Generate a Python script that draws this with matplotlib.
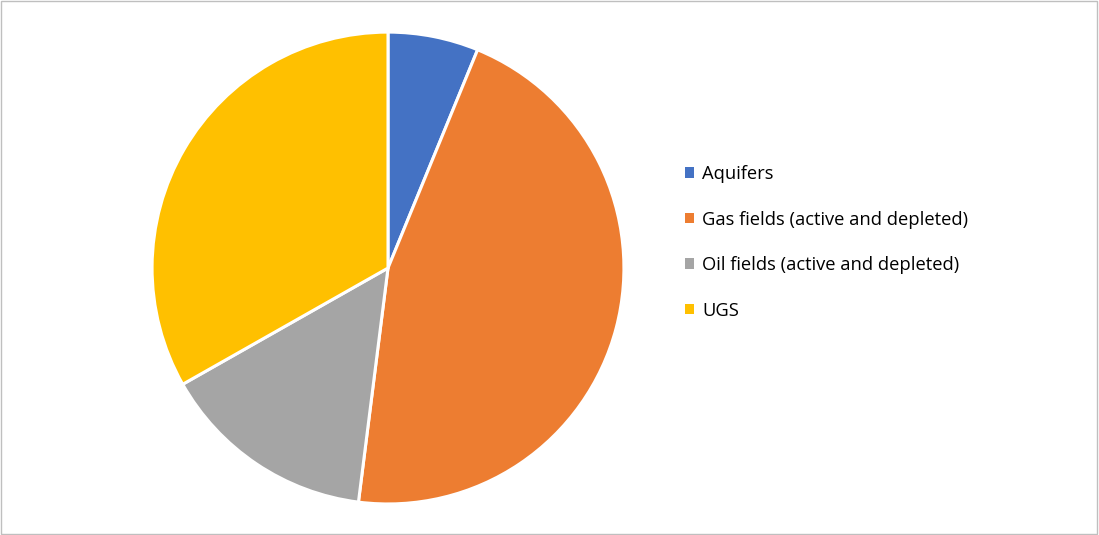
import matplotlib.pyplot as plt
from matplotlib.patches import Patch, Rectangle

# storage types and their shares (%)
labels = ["Aquifers", "Gas fields (active and depleted)", "Oil fields (active and depleted)", "UGS"]
shares = [6.2, 45.8, 14.8, 33.2]
colors = ["#4472C4", "#ED7D31", "#A5A5A5", "#FFC000"]

plt.rcParams['font.family'] = ['Open Sans', 'DejaVu Sans']

fig = plt.figure(figsize=(10.99, 5.35), dpi=100)
ax = fig.add_axes([0.1383, 0.058, 0.4295, 0.882])
ax.pie(shares, colors=colors, startangle=90, counterclock=False, radius=1,
       wedgeprops=dict(edgecolor="white", linewidth=2.2))
ax.set_xlim(-1, 1)
ax.set_ylim(-1, 1)
ax.set_aspect("equal")
ax.axis("off")

# light outer frame like the office chart area
fig.patches.append(Rectangle((0.0005, 0.001), 0.998, 0.997, transform=fig.transFigure,
                             fill=False, edgecolor="#BFBFBF", linewidth=1))

handles = [Patch(facecolor=c, edgecolor="none") for c in colors]
fig.legend(handles, labels, loc="upper left", bbox_to_anchor=(0.608, 0.722),
           frameon=False, fontsize=13.2, handlelength=0.5, handleheight=0.5,
           handletextpad=0.45, labelspacing=1.5)

plt.savefig("out.png", dpi=100)
